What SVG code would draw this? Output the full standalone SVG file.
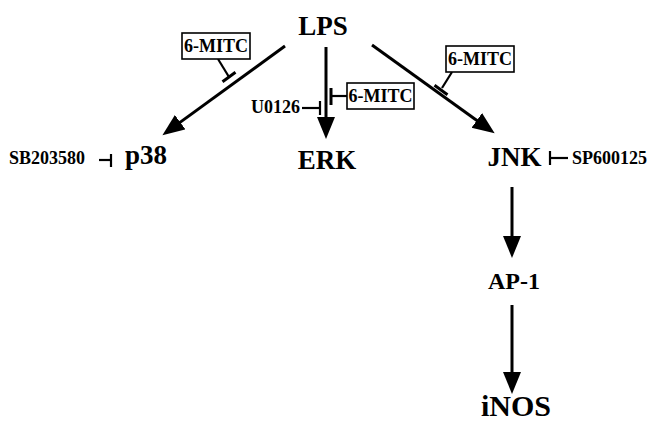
<svg xmlns="http://www.w3.org/2000/svg" width="649" height="434" viewBox="0 0 649 434">
<style>
text{font-family:"Liberation Serif","Times New Roman",serif;font-weight:bold;fill:#000}
.big{font-size:27px}
.sm{font-size:18px}
.arr{stroke:#000;stroke-width:3;fill:none;marker-end:url(#ah)}
.inh{stroke:#000;stroke-width:2.2;fill:none}
.bar{stroke:#000;stroke-width:3;fill:none}
.box{fill:#fff;stroke:#000;stroke-width:1.6}
</style>
<defs>
<marker id="ah" markerUnits="userSpaceOnUse" markerWidth="23" markerHeight="19" refX="10" refY="9" orient="auto">
<path d="M0,0 L22,9 L0,18 z" fill="#000"/>
</marker>
</defs>
<rect width="649" height="434" fill="#fff"/>
<g id="connectors">
<line class="arr" x1="285" y1="46" x2="172.1" y2="128.1"/>
<line class="arr" x1="326" y1="47" x2="326" y2="127"/>
<line class="arr" x1="372" y1="45" x2="484.9" y2="126.2"/>
<line class="arr" x1="512" y1="187" x2="512" y2="246"/>
<line class="arr" x1="512" y1="305" x2="512" y2="382"/>
<!-- left 6-MITC inhibition -->
<line class="inh" x1="218" y1="59" x2="229" y2="77"/>
<line class="bar" x1="222.5" y1="81.7" x2="235.5" y2="72.3"/>
<!-- middle 6-MITC inhibition -->
<line class="inh" x1="347" y1="96" x2="331" y2="96"/>
<line class="bar" x1="331" y1="88" x2="331" y2="105"/>
<!-- U0126 -->
<line class="inh" x1="302" y1="108" x2="320" y2="108"/>
<line class="inh" x1="320" y1="101" x2="320" y2="115"/>
<!-- right 6-MITC inhibition -->
<line class="inh" x1="452" y1="72" x2="442" y2="88"/>
<line class="bar" x1="434.5" y1="85.3" x2="447.5" y2="94.7"/>
<!-- SB203580 -->
<line class="inh" x1="99" y1="160" x2="111" y2="160"/>
<line class="inh" x1="111" y1="154" x2="111" y2="167"/>
<!-- SP600125 -->
<line class="inh" x1="550" y1="151" x2="550" y2="165"/>
<line class="inh" x1="550" y1="158" x2="568" y2="158"/>
</g>
<g id="LPS"><text class="big" x="323" y="35" text-anchor="middle">LPS</text></g>
<g id="p38"><text class="big" x="146" y="164" text-anchor="middle">p38</text></g>
<g id="ERK"><text class="big" x="327" y="169" text-anchor="middle">ERK</text></g>
<g id="JNK"><text class="big" x="514.5" y="166" text-anchor="middle">JNK</text></g>
<g id="AP-1"><text x="514" y="289" text-anchor="middle" font-size="24">AP-1</text></g>
<g id="iNOS"><text x="516" y="416" text-anchor="middle" font-size="30">iNOS</text></g>
<g id="mitc1"><rect class="box" x="182" y="33" width="68" height="26"/><text class="sm" x="216" y="52" text-anchor="middle">6-MITC</text></g>
<g id="mitc2"><rect class="box" x="347" y="83" width="67" height="26"/><text class="sm" x="380.5" y="102" text-anchor="middle">6-MITC</text></g>
<g id="mitc3"><rect class="box" x="446" y="46" width="68" height="26"/><text class="sm" x="480" y="65" text-anchor="middle">6-MITC</text></g>
<g id="U0126"><text class="sm" x="300" y="113" text-anchor="end">U0126</text></g>
<g id="SB203580"><text class="sm" x="9" y="164">SB203580</text></g>
<g id="SP600125"><text class="sm" x="572" y="164">SP600125</text></g>
</svg>
